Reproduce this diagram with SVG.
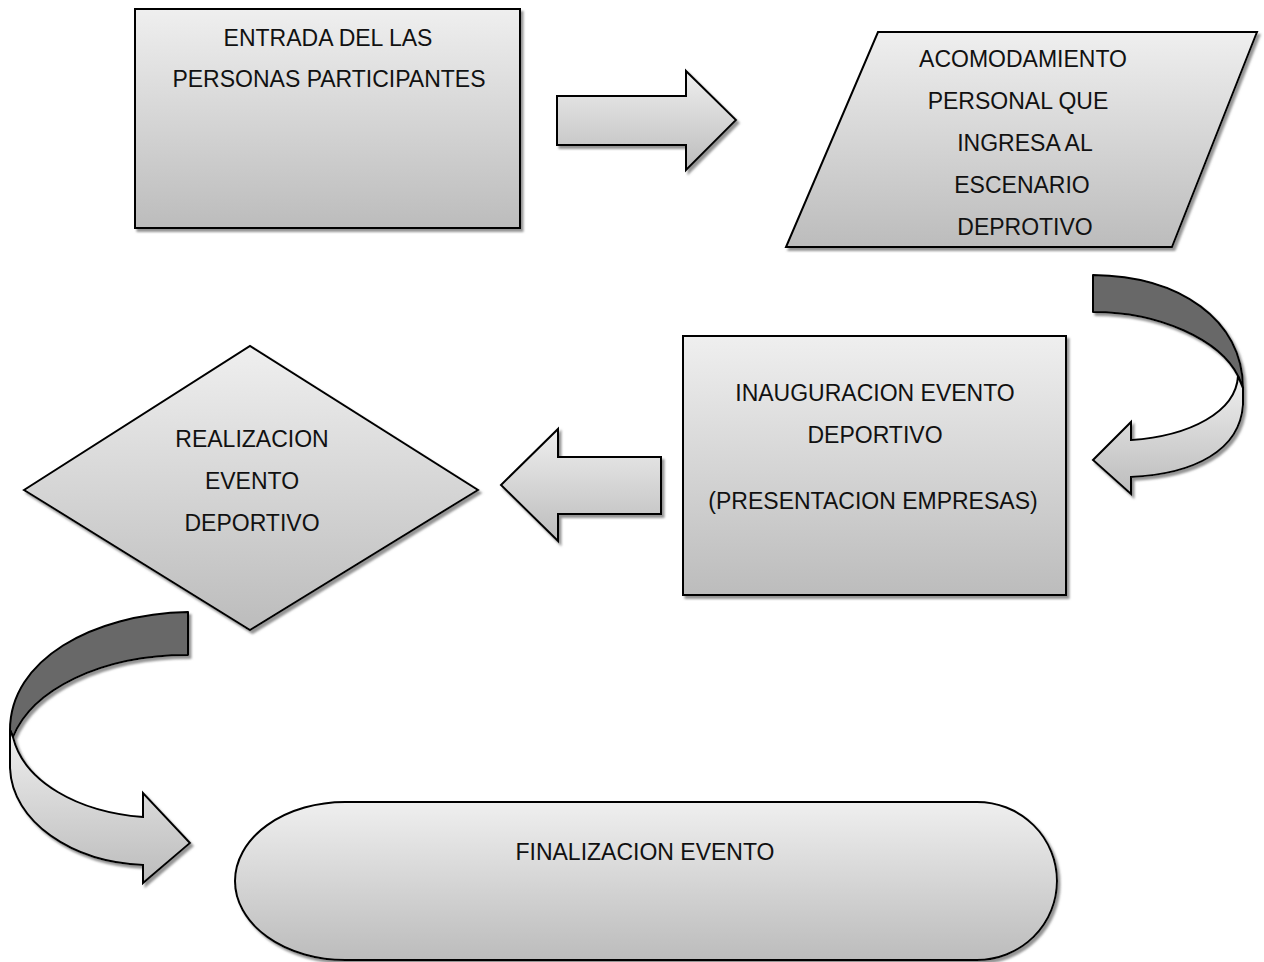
<svg xmlns="http://www.w3.org/2000/svg" width="1264" height="962" viewBox="0 0 1264 962">
<defs>
<linearGradient id="g" x1="0" y1="0" x2="0" y2="1">
<stop offset="0" stop-color="#efefef"/>
<stop offset="1" stop-color="#bcbcbc"/>
</linearGradient>
<filter id="sh" x="-10%" y="-10%" width="130%" height="130%">
<feDropShadow dx="2.5" dy="3" stdDeviation="1" flood-color="#7a7a7a" flood-opacity="0.8"/>
</filter>
</defs>
<style>
.s{fill:url(#g);stroke:#000;stroke-width:2;stroke-linejoin:miter;filter:url(#sh)}
.d{fill:#686868;stroke:#000;stroke-width:2;stroke-linejoin:round}
.l{fill:url(#g);stroke:#000;stroke-width:2;stroke-linejoin:miter}
text{font-family:"Liberation Sans",Arial,sans-serif;font-size:23px;fill:#111;text-anchor:middle}
</style>
<rect width="1264" height="962" fill="#fff"/>
<g id="connectors">
<path class="s" d="M557,96 L686,96 L686,71 L736,120 L686,170 L686,145 L557,145 Z"/>
<path class="s" d="M661,457 L558,457 L558,429 L501,485 L558,541 L558,514 L661,514 Z"/>
<g filter="url(#sh)">
<path class="d" d="M1093,275 C1180,276 1243,320 1243,388 L1238,376 C1220,340 1160,312 1093,312 Z"/>
<path class="l" d="M1238,376 L1243,388 L1243,405 C1240,450 1195,474 1131,477 L1131,494 L1093,460 L1131,422 L1131,440 C1190,436 1236,412 1238,376 Z"/>
</g>
<g filter="url(#sh)">
<path class="d" d="M188,612 C92,614 10,660 10,730 L13,737 C32,690 100,655 188,655 Z"/>
<path class="l" d="M13,737 L10,730 L10,768 C12,822 72,862 143,865 L143,883 L190,843 L143,793 L143,817 C78,812 24,782 13,737 Z"/>
</g>
</g>
<g id="n1">
<rect class="s" x="135" y="9" width="385" height="219"/>
<text x="328" y="46">ENTRADA DEL LAS</text>
<text x="329" y="87">PERSONAS PARTICIPANTES</text>
</g>
<g id="n2">
<path class="s" d="M878,32 L1257,32 L1172,247 L786,247 Z"/>
<text x="1023" y="67">ACOMODAMIENTO</text>
<text x="1018" y="109">PERSONAL QUE</text>
<text x="1025" y="151">INGRESA AL</text>
<text x="1022" y="193">ESCENARIO</text>
<text x="1025" y="235">DEPROTIVO</text>
</g>
<g id="n3">
<rect class="s" x="683" y="336" width="383" height="259"/>
<text x="875" y="401">INAUGURACION EVENTO</text>
<text x="875" y="443">DEPORTIVO</text>
<text x="873" y="509">(PRESENTACION EMPRESAS)</text>
</g>
<g id="n4">
<path class="s" d="M24,490 L250,346 L478,490 L250,630 Z"/>
<text x="252" y="447">REALIZACION</text>
<text x="252" y="489">EVENTO</text>
<text x="252" y="531">DEPORTIVO</text>
</g>
<g id="n5">
<path class="s" d="M345,802 L977,802 A80,79 0 0 1 977,960 L345,960 A110,79 0 0 1 345,802 Z"/>
<text x="645" y="860">FINALIZACION EVENTO</text>
</g>
</svg>
